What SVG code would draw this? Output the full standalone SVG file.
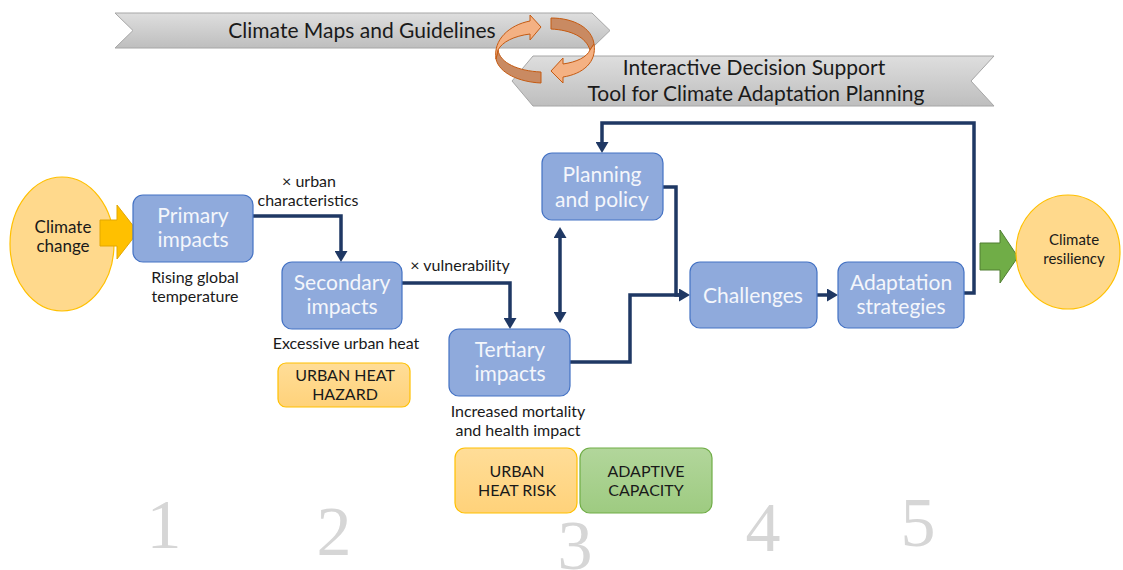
<svg xmlns="http://www.w3.org/2000/svg" width="1123" height="570" viewBox="0 0 1123 570">
  <style>
    text { font-family: Lato, "Open Sans", "Liberation Sans", sans-serif; }
    .banner { stroke: #A6A6A6; stroke-width: 1; }
    .btxt { font-size: 21px; fill: #1A1A1A; text-anchor: middle; }
    .box { fill: #8FAADC; stroke: #4472C4; stroke-width: 1.2; }
    .boxtxt { font-size: 21px; fill: #F4F6FB; text-anchor: middle; }
    .lbl { font-size: 16px; fill: #1A1A1A; text-anchor: middle; }
    .tag { font-size: 16px; fill: #1A1A1A; text-anchor: middle; }
    .orange { fill: url(#gOrange); stroke: #FFC000; stroke-width: 1.2; }
    .green { fill: url(#gGreen); stroke: #70AD47; stroke-width: 1.2; }
    .circle { fill: #FFD98C; stroke: #FFC000; stroke-width: 1.2; }
    .ctxt { fill: #1A1A1A; text-anchor: middle; }
    .conn { fill: none; stroke: #1F3864; stroke-width: 3.5; stroke-linejoin: miter; }
    .num { font-family: "Liberation Serif", "DejaVu Serif", serif; font-size: 70px; fill: #D6D6D6; text-anchor: middle; }
    .ringLight { fill: #F4B183; stroke: #C55A11; stroke-width: 1; }
    .ringDark { fill: #C98A62; stroke: #C55A11; stroke-width: 1; }
  </style>
  <defs>
    <linearGradient id="gBanner" x1="0" y1="0" x2="0" y2="1">
      <stop offset="0" stop-color="#DEDEDE"/>
      <stop offset="1" stop-color="#BEBEBE"/>
    </linearGradient>
    <linearGradient id="gOrange" x1="0" y1="0" x2="0" y2="1">
      <stop offset="0" stop-color="#FFDD98"/>
      <stop offset="1" stop-color="#FFD27A"/>
    </linearGradient>
    <linearGradient id="gGreen" x1="0" y1="0" x2="0" y2="1">
      <stop offset="0" stop-color="#B2D69B"/>
      <stop offset="1" stop-color="#9ECB81"/>
    </linearGradient>
    <marker id="arr" viewBox="0 0 11 13" refX="1" refY="6.5" markerWidth="11" markerHeight="13" markerUnits="userSpaceOnUse" orient="auto-start-reverse" preserveAspectRatio="none">
      <path d="M0,0 L11,6.5 L0,13 Z" fill="#1F3864"/>
    </marker>
  </defs>

  <!-- banners -->
  <g id="banner-maps">
    <path class="banner" fill="url(#gBanner)" d="M115,13 L592,13 L610,30.5 L592,48 L115,48 L133,30.5 Z"/>
    <text class="btxt" x="362" y="38">Climate Maps and Guidelines</text>
  </g>
  <g id="banner-tool">
    <path class="banner" fill="url(#gBanner)" d="M533,56 L994,56 L971,81 L994,106 L533,106 L512,81 Z"/>
    <text class="btxt" x="754" y="75">Interactive Decision Support</text>
    <text class="btxt" x="756" y="101">Tool for Climate Adaptation Planning</text>
  </g>

  <!-- circular exchange arrows -->
  <g id="cycle-arrows">
    <path class="ringDark" d="M541,72 C518,71 500,63 498,50 L496,59 C499,73 519,82 541,83 Z"/>
    <path class="ringDark" d="M551,18 C574,18 592,28 594,44 L590,50 C586,37 571,30 551,29 Z"/>
    <path class="ringLight" d="M496,59 C493,40 509,25 530,21 L530,15 L541,27 L530,40 L530,34 C514,36 502,42 498,50 Z"/>
    <path class="ringLight" d="M594,44 C597,62 583,74 563,77 L563,83 L551,71 L563,58 L563,64 C577,62 587,57 590,50 Z"/>
  </g>

  <!-- connectors -->
  <g id="connectors">
    <path class="conn" d="M253,216 H341 V252" marker-end="url(#arr)"/>
    <path class="conn" d="M402,283 H510 V319" marker-end="url(#arr)"/>
    <path class="conn" d="M560,237 V313" marker-start="url(#arr)" marker-end="url(#arr)"/>
    <path class="conn" d="M663,187 H676 V295 H680" marker-end="url(#arr)"/>
    <path class="conn" d="M570,362 H630 V295 H680"/>
    <path class="conn" d="M817,295 H828" marker-end="url(#arr)"/>
    <path class="conn" d="M964,293 H974 V123 H602 V143" marker-end="url(#arr)"/>
  </g>

  <!-- climate change -->
  <g id="climate-change">
    <ellipse class="circle" cx="62" cy="244" rx="52" ry="67"/>
    <text class="ctxt" x="63" y="233" font-size="17">Climate</text>
    <text class="ctxt" x="63" y="252" font-size="17">change</text>
    <path d="M100,220 H117 V205 L138,232 L117,259 V246 H100 Z" fill="#FFC000" stroke="#E3A700" stroke-width="1"/>
  </g>

  <g id="primary">
    <rect class="box" x="133" y="195" width="120" height="67" rx="10"/>
    <text class="boxtxt" x="193" y="223">Primary</text>
    <text class="boxtxt" x="193" y="247">impacts</text>
    <text class="lbl" x="195" y="283">Rising global</text>
    <text class="lbl" x="195" y="302">temperature</text>
  </g>

  <text class="lbl" x="309" y="187">× urban</text>
  <text class="lbl" x="308" y="206">characteristics</text>

  <g id="secondary">
    <rect class="box" x="282" y="262" width="120" height="67" rx="10"/>
    <text class="boxtxt" x="342" y="290">Secondary</text>
    <text class="boxtxt" x="342" y="314">impacts</text>
    <text class="lbl" x="346" y="349">Excessive urban heat</text>
  </g>

  <g id="urban-heat-hazard">
    <rect class="orange" x="278" y="363" width="132" height="44" rx="8"/>
    <text class="tag" x="345" y="381">URBAN HEAT</text>
    <text class="tag" x="345" y="400">HAZARD</text>
  </g>

  <text class="lbl" x="460" y="271">× vulnerability</text>

  <g id="tertiary">
    <rect class="box" x="449" y="329" width="121" height="67" rx="10"/>
    <text class="boxtxt" x="510" y="357">Tertiary</text>
    <text class="boxtxt" x="510" y="381">impacts</text>
    <text class="lbl" x="518" y="417">Increased mortality</text>
    <text class="lbl" x="518" y="436">and health impact</text>
  </g>

  <g id="urban-heat-risk">
    <rect class="orange" x="455" y="448" width="122" height="65" rx="10"/>
    <text class="tag" x="517" y="477">URBAN</text>
    <text class="tag" x="517" y="496">HEAT RISK</text>
  </g>

  <g id="adaptive-capacity">
    <rect class="green" x="580" y="448" width="132" height="65" rx="10"/>
    <text class="tag" x="646" y="477">ADAPTIVE</text>
    <text class="tag" x="646" y="496">CAPACITY</text>
  </g>

  <g id="planning">
    <rect class="box" x="542" y="153" width="121" height="67" rx="10"/>
    <text class="boxtxt" x="602" y="182">Planning</text>
    <text class="boxtxt" x="602" y="207">and policy</text>
  </g>

  <g id="challenges">
    <rect class="box" x="690" y="262" width="127" height="66" rx="10"/>
    <text class="boxtxt" x="753" y="303">Challenges</text>
  </g>

  <g id="adaptation">
    <rect class="box" x="838" y="262" width="126" height="66" rx="10"/>
    <text class="boxtxt" x="901" y="290">Adaptation</text>
    <text class="boxtxt" x="901" y="314">strategies</text>
  </g>

  <g id="climate-resiliency">
    <path d="M980,243 H1000 V230 L1018,257 L1000,283 V270 H980 Z" fill="#70AD47" stroke="#507E32" stroke-width="1"/>
    <ellipse class="circle" cx="1068" cy="252" rx="52" ry="57"/>
    <text class="ctxt" x="1074" y="245" font-size="15">Climate</text>
    <text class="ctxt" x="1074" y="264" font-size="15">resiliency</text>
  </g>

  <!-- stage numbers -->
  <g id="stages">
    <text class="num" x="164" y="548">1</text>
    <text class="num" x="334" y="555">2</text>
    <text class="num" x="575" y="569">3</text>
    <text class="num" x="763" y="551">4</text>
    <text class="num" x="918" y="546">5</text>
  </g>
</svg>
